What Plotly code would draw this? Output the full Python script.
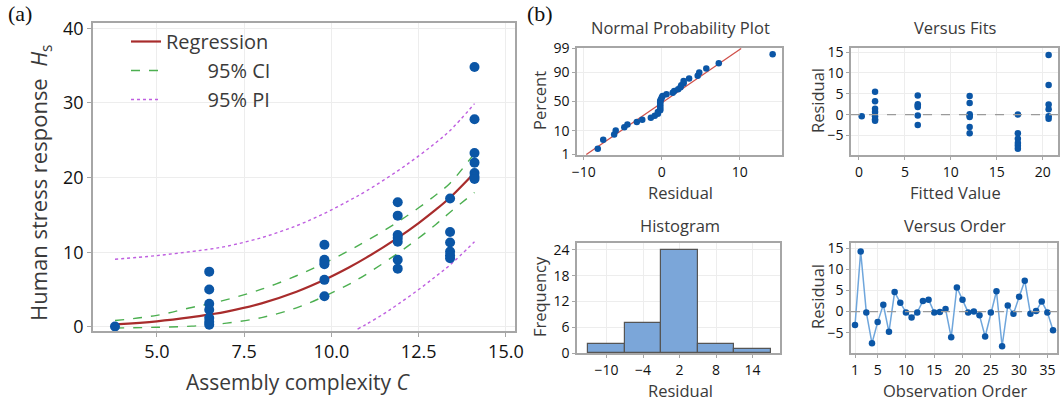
import plotly.graph_objects as go
import numpy as np
from statistics import NormalDist

W, H = 1062, 403

# ---------------- Panel (a) data ----------------
complexity_levels = [3.8, 6.5, 9.8, 11.9, 13.4, 14.1]
stress_responses = [
    [0.05],
    [7.4, 5.0, 3.1, 2.3, 1.2, 0.7, 0.3],
    [11.0, 9.0, 8.7, 8.4, 6.3, 4.1],
    [16.7, 14.9, 12.3, 11.9, 11.4, 9.0, 7.8],
    [17.2, 12.7, 11.3, 10.1, 9.6, 9.2],
    [34.8, 27.8, 23.3, 22.0, 20.6, 20.1, 19.8],
]
curve_c = [3.8, 5.0, 6.0, 6.5, 7.0, 8.0, 9.0, 9.8, 10.5, 11.0, 11.9, 12.5, 13.0, 13.4, 14.1]
regression = [0.35, 0.75, 1.3, 1.65, 2.05, 3.15, 4.7, 6.3, 7.95, 9.27, 11.93, 13.91, 15.73, 17.33, 20.65]
ci_upper = [0.85, 1.55, 2.6, 3.1, 3.65, 5.05, 6.85, 8.55, 10.2, 11.5, 14.05, 15.95, 17.7, 19.25, 23.25]
ci_lower = [-0.15, -0.05, 0.1, 0.3, 0.5, 1.25, 2.55, 4.1, 5.7, 7.05, 9.85, 11.9, 13.75, 15.35, 18.0]
pi_upper = [9.05, 9.55, 10.1, 10.4, 10.8, 11.95, 13.55, 15.2, 16.9, 18.2, 20.9, 22.9, 24.7, 26.3, 29.9]
pi_lower_c = [10.75, 11.0, 11.5, 11.9, 12.5, 13.0, 13.4, 14.1]
pi_lower = [-0.3, 0.35, 1.75, 3.0, 5.0, 6.8, 8.3, 11.4]

# ---------------- Panel (b) data ----------------
residuals_by_order = [-3.2, 14.2, -0.2, -7.5, -2.5, 1.6, -4.8, 4.6, 2.1, -0.2,
                      -1.4, -0.2, 2.5, 2.8, -0.2, -0.1, 0.6, -6.1, 5.7, 2.8,
                      -0.2, 0.0, -0.9, -5.9, -0.2, 4.8, -8.2, 1.4, -0.5, 3.5,
                      7.3, -0.5, 0.1, 2.4, -0.2, -4.4]
fit_levels = [0.3, 1.75, 6.4, 12.05, 17.3, 20.65]
fit_residuals = [
    [-0.4],
    [5.5, 3.2, 1.4, 0.6, -0.4, -1.1, -1.5],
    [4.6, 2.5, 2.1, 1.8, -0.2, -2.5],
    [4.5, 2.8, 0.1, -0.3, -0.6, -3.0, -4.5],
    [0.0, -4.5, -5.8, -6.8, -7.5, -8.2],
    [14.3, 7.1, 2.4, 1.3, -0.4, -1.0],
]
npp_ticks = [1, 10, 50, 90, 99]
hist_ticks = [-10, -4, 2, 8, 14]
freq_ticks = [0, 6, 12, 18, 24]
order_ticks = [1, 5, 10, 15, 20, 25, 30, 35]

FONT = "Open Sans"
BLUE = "#0b56a6"
TITLE_C = "#3a3a3a"
TICK_C = "#111111"
GRID = "#ededed"
FRAME = "#a6a6a6"

fig = go.Figure()

# ---- panel (a) ----
px, py = [], []
for c, ys in zip(complexity_levels, stress_responses):
    px += [c] * len(ys)
    py += ys

fig.add_trace(go.Scatter(x=curve_c, y=regression, mode="lines", name="Regression",
                         line=dict(color="#a82c2c", width=2.2, shape="spline"),
                         xaxis="x", yaxis="y"))
fig.add_trace(go.Scatter(x=curve_c, y=ci_upper, mode="lines", name="\u00a0" * 8 + "95% CI",
                         line=dict(color="#4caf50", width=1.4, dash="dash", shape="spline"),
                         xaxis="x", yaxis="y", legendgroup="ci"))
fig.add_trace(go.Scatter(x=curve_c, y=ci_lower, mode="lines", showlegend=False,
                         line=dict(color="#4caf50", width=1.4, dash="dash", shape="spline"),
                         xaxis="x", yaxis="y", legendgroup="ci"))
fig.add_trace(go.Scatter(x=curve_c, y=pi_upper, mode="lines", name="\u00a0" * 8 + "95% PI",
                         line=dict(color="#bf5fe0", width=1.4, dash="dot", shape="spline"),
                         xaxis="x", yaxis="y", legendgroup="pi"))
fig.add_trace(go.Scatter(x=pi_lower_c, y=pi_lower, mode="lines", showlegend=False,
                         line=dict(color="#bf5fe0", width=1.4, dash="dot", shape="spline"),
                         xaxis="x", yaxis="y", legendgroup="pi"))
fig.add_trace(go.Scatter(x=px, y=py, mode="markers", showlegend=False,
                         marker=dict(color=BLUE, size=10),
                         xaxis="x", yaxis="y"))

# ---- NPP ----
res = np.array(residuals_by_order)
n = len(res)
srt = np.sort(res)
nd = NormalDist()
pct = [(i + 1 - 0.3) / (n + 0.4) for i in range(n)]
zs = [nd.inv_cdf(p) for p in pct]
mu, sd = float(res.mean()), float(res.std(ddof=1))
zl = [nd.inv_cdf(0.01), nd.inv_cdf(0.99)]
fig.add_trace(go.Scatter(x=[mu + sd * z for z in zl], y=zl, mode="lines", showlegend=False,
                         line=dict(color="#d0504a", width=1.2), xaxis="x2", yaxis="y2"))
fig.add_trace(go.Scatter(x=srt, y=zs, mode="markers", showlegend=False,
                         marker=dict(color=BLUE, size=6.5), xaxis="x2", yaxis="y2"))

# ---- Versus fits ----
fx, fy = [], []
for f, rs in zip(fit_levels, fit_residuals):
    fx += [f] * len(rs)
    fy += rs
fig.add_trace(go.Scatter(x=fx, y=fy, mode="markers", showlegend=False,
                         marker=dict(color=BLUE, size=6.5), xaxis="x3", yaxis="y3"))

# ---- Histogram ----
fig.add_trace(go.Histogram(x=residuals_by_order, xbins=dict(start=-13, end=17, size=6),
                           marker=dict(color="#7ba6d9", line=dict(color="#555555", width=1.2)),
                           showlegend=False, xaxis="x4", yaxis="y4"))

# ---- Versus order ----
fig.add_trace(go.Scatter(x=list(range(1, n + 1)), y=residuals_by_order, mode="lines+markers",
                         showlegend=False, line=dict(color="#6fa6dc", width=1.5),
                         marker=dict(color=BLUE, size=6.5), xaxis="x5", yaxis="y5"))


def dom_x(a, b):
    return [a / W, b / W]


def dom_y(top, bottom):
    return [1 - bottom / H, 1 - top / H]


def ax(**kw):
    base = dict(showgrid=True, gridcolor=GRID, gridwidth=1, showline=True, linecolor=FRAME,
                linewidth=1.5, mirror=True, ticks="outside", ticklen=3, tickcolor=FRAME,
                zeroline=False, automargin=False,
                tickfont=dict(family=FONT, size=14, color=TICK_C))
    base.update(kw)
    return base


big_tick = dict(family=FONT, size=18, color=TICK_C)

fig.update_layout(
    width=W, height=H, margin=dict(l=0, r=0, t=0, b=0),
    paper_bgcolor="white", plot_bgcolor="white",
    font=dict(family=FONT, color=TITLE_C),
    bargap=0,
    showlegend=True,
    legend=dict(x=126 / W, y=1 - 22 / H, xanchor="left", yanchor="top",
                bgcolor="rgba(0,0,0,0)", font=dict(family=FONT, size=20, color=TITLE_C),
                tracegroupgap=0),
    xaxis=ax(domain=dom_x(93, 515), range=[3.17, 15.26], tickvals=[5, 7.5, 10, 12.5, 15],
             ticktext=["5.0", "7.5", "10.0", "12.5", "15.0"], tickfont=big_tick, anchor="y",
             ticklen=4),
    yaxis=ax(domain=dom_y(23, 331), range=[-0.55, 40.7], tickvals=[0, 10, 20, 30, 40],
             tickfont=big_tick, anchor="x", ticklen=4),
    xaxis2=ax(domain=dom_x(577, 782), range=[-10.86, 15.4], tickvals=[-10, 0, 10], anchor="y2"),
    yaxis2=ax(domain=dom_y(48, 155), range=[nd.inv_cdf(0.01) - 0.02, nd.inv_cdf(0.99) + 0.02],
              tickvals=[nd.inv_cdf(t / 100) for t in npp_ticks],
              ticktext=[str(t) for t in npp_ticks], anchor="x2"),
    xaxis3=ax(domain=dom_x(851, 1058), range=[-0.87, 21.67], tickvals=[0, 5, 10, 15, 20], anchor="y3"),
    yaxis3=ax(domain=dom_y(48, 155), range=[-9.7, 16.0], tickvals=[-5, 0, 5, 10, 15], anchor="x3"),
    xaxis4=ax(domain=dom_x(577, 780), range=[-14.86, 18.5], tickvals=hist_ticks, anchor="y4"),
    yaxis4=ax(domain=dom_y(243, 353), range=[0, 25.6], tickvals=freq_ticks, anchor="x4"),
    xaxis5=ax(domain=dom_x(851, 1057), range=[0.29, 36.7], tickvals=order_ticks, anchor="y5"),
    yaxis5=ax(domain=dom_y(243, 353), range=[-9.8, 16.2], tickvals=[-5, 0, 5, 10, 15], anchor="x5"),
)

# zero reference lines
for xa, ya in [("x3", "y3"), ("x5", "y5")]:
    fig.add_shape(type="line", xref=f"{xa} domain", x0=0, x1=1, yref=ya, y0=0, y1=0,
                  line=dict(color="#9a9a9a", width=1.2, dash="dash"), layer="above")


def ann(text, x, y, size, color=TITLE_C, angle=0, family=FONT):
    fig.add_annotation(text=text, x=x / W, y=1 - y / H, xref="paper", yref="paper",
                       showarrow=False, xanchor="center", yanchor="middle", textangle=angle,
                       font=dict(family=family, size=size, color=color))


ann("(a)", 20, 14, 22, color="#111111", family="Liberation Serif")
ann("(b)", 540, 14, 22, color="#111111", family="Liberation Serif")
ann("Human stress response\u00a0\u00a0<i>H</i><sub>s</sub>", 40, 183, 22, angle=-90)
ann("Assembly complexity <i>C</i>", 298, 382, 21)

ann("Normal Probability Plot", 680, 28, 16.5)
ann("Residual", 680, 192, 16.5)
ann("Percent", 539, 101, 16.5, angle=-90)

ann("Versus Fits", 955, 28, 16.5)
ann("Fitted Value", 955, 192, 16.5)
ann("Residual", 817, 101, 16.5, angle=-90)

ann("Histogram", 680, 225, 16.5)
ann("Residual", 680, 390, 16.5)
ann("Frequency", 539, 297, 16.5, angle=-90)

ann("Versus Order", 955, 225, 16.5)
ann("Observation Order", 955, 390, 16.5)
ann("Residual", 817, 297, 16.5, angle=-90)

fig.write_html("out.html", config={"displayModeBar": False},
               post_script="document.body.style.margin='0px';")
